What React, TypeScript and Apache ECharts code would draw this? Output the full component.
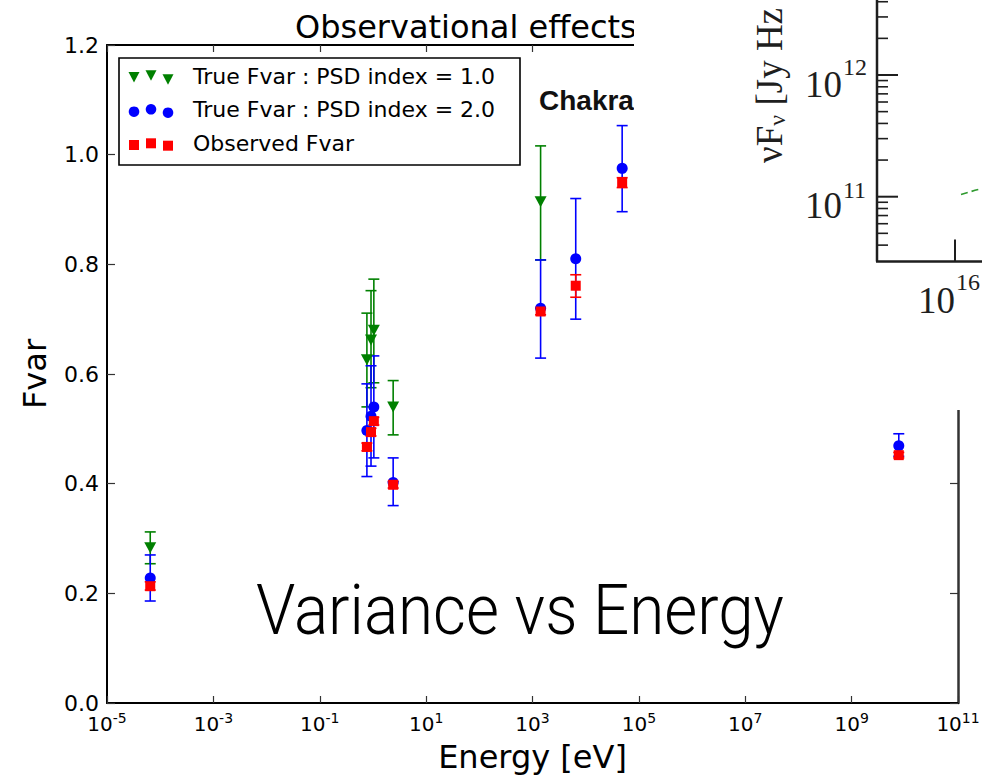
import React, { useEffect, useRef } from "react";
import * as echarts from "echarts";

// ---- data ----
const energies = [6.5e-5, 0.77, 0.92, 1.04, 2.4, 1420, 6500, 48500, 7.7e9];

const psd1Fvar = [0.283, 0.626, 0.662, 0.68, 0.54, 0.914, null, null, null];
const psd1Low = [0.254, 0.54, 0.575, 0.584, 0.489, 0.808, null, null, null];
const psd1High = [0.312, 0.711, 0.752, 0.773, 0.588, 1.016, null, null, null];

const psd2Fvar = [0.228, 0.497, 0.523, 0.54, 0.402, 0.72, 0.81, 0.975, 0.469];
const psd2Low = [0.186, 0.413, 0.432, 0.447, 0.36, 0.629, 0.7, 0.896, 0.45];
const psd2High = [0.27, 0.582, 0.615, 0.633, 0.447, 0.808, 0.92, 1.053, 0.491];

const obsFvar = [0.213, 0.467, 0.494, 0.514, 0.398, 0.714, 0.761, 0.949, 0.452];
const obsLow = [0.206, 0.46, 0.487, 0.507, 0.392, 0.708, 0.74, 0.94, 0.447];
const obsHigh = [0.221, 0.474, 0.501, 0.521, 0.404, 0.72, 0.781, 0.958, 0.457];

const xTickExponents = [-5, -3, -1, 1, 3, 5, 7, 9, 11];
const legendLabels = [
  "True Fvar : PSD index = 1.0",
  "True Fvar : PSD index = 2.0",
  "Observed Fvar",
];
const titleText = "Observational effects";
const subtitleText = "Chakraborty et al.";
const bigText = "Variance vs Energy";
const insetYTicks = ["12", "11"];
const insetXTick = "16";

const GREEN = "#008000";
const BLUE = "#0000ff";
const RED = "#ff0000";

function measure(text: string, font: string): number {
  const c = document.createElement("canvas").getContext("2d");
  if (!c) return text.length * 30;
  c.font = font;
  return c.measureText(text).width;
}

function points(vals: (number | null)[]) {
  const out: number[][] = [];
  energies.forEach((e, i) => {
    if (vals[i] != null) out.push([Math.log10(e), vals[i] as number]);
  });
  return out;
}

function errPoints(low: (number | null)[], high: (number | null)[]) {
  const out: number[][] = [];
  energies.forEach((e, i) => {
    if (low[i] != null && high[i] != null)
      out.push([Math.log10(e), low[i] as number, high[i] as number]);
  });
  return out;
}

function errSeries(name: string, low: any[], high: any[], color: string) {
  return {
    type: "custom",
    name,
    data: errPoints(low, high),
    encode: { x: 0, y: [1, 2] },
    silent: true,
    clip: false,
    renderItem: (_p: any, api: any) => {
      const x = api.value(0);
      const a = api.coord([x, api.value(1)]);
      const b = api.coord([x, api.value(2)]);
      const cw = 5.5;
      const style = { stroke: color, lineWidth: 1.6, fill: null };
      return {
        type: "group",
        children: [
          { type: "line", shape: { x1: a[0], y1: a[1], x2: b[0], y2: b[1] }, style },
          { type: "line", shape: { x1: a[0] - cw, y1: a[1], x2: a[0] + cw, y2: a[1] }, style },
          { type: "line", shape: { x1: b[0] - cw, y1: b[1], x2: b[0] + cw, y2: b[1] }, style },
        ],
      };
    },
  };
}

function buildLegend(): any[] {
  const els: any[] = [];
  els.push({
    type: "rect",
    shape: { x: 119, y: 58, width: 401, height: 107 },
    style: { fill: "#fff", stroke: "#000", lineWidth: 1.6 },
    z: 10,
  });
  const mx = [134, 151, 168];
  const rows = [
    { y: 77, offs: [0, -1.7, 2.3] },
    { y: 110.5, offs: [1.2, -1.2, 2.2] },
    { y: 144, offs: [1, -0.7, 1.7] },
  ];
  mx.forEach((x, k) => {
    const y = rows[0].y + rows[0].offs[k];
    els.push({
      type: "polygon",
      shape: { points: [[x - 5.5, y - 5], [x + 5.5, y - 5], [x, y + 5.5]] },
      style: { fill: GREEN },
      z: 11,
    });
    const y2 = rows[1].y + rows[1].offs[k];
    els.push({ type: "circle", shape: { cx: x, cy: y2, r: 5.3 }, style: { fill: BLUE }, z: 11 });
    const y3 = rows[2].y + rows[2].offs[k];
    els.push({
      type: "rect",
      shape: { x: x - 5, y: y3 - 5, width: 10, height: 10 },
      style: { fill: RED },
      z: 11,
    });
  });
  legendLabels.forEach((t, i) => {
    els.push({
      type: "text",
      x: 193,
      y: rows[i].y - 1,
      style: {
        text: t,
        fontFamily: "DejaVu Sans",
        fontSize: 22,
        fill: "#000",
        align: "left",
        verticalAlign: "middle",
      },
      z: 11,
    });
  });
  return els;
}

function buildInset(): any[] {
  const els: any[] = [];
  const Z = 101;
  const ink = "#1e1e1e";
  const axX = 877;
  const axBottom = 261.5;
  const y12 = 75;
  const decade = 121.7;
  const y11 = y12 + decade;
  els.push({ type: "rect", shape: { x: 634, y: 0, width: 348, height: 410 }, style: { fill: "#fff" }, z: 100 });
  els.push({ type: "line", shape: { x1: axX, y1: 0, x2: axX, y2: axBottom }, style: { stroke: ink, lineWidth: 2.5 }, z: Z });
  els.push({ type: "line", shape: { x1: axX - 1, y1: axBottom, x2: 982, y2: axBottom }, style: { stroke: ink, lineWidth: 2.5 }, z: Z });
  [y12, y11].forEach((y) => {
    els.push({ type: "line", shape: { x1: axX, y1: y, x2: axX + 21, y2: y }, style: { stroke: ink, lineWidth: 2 }, z: Z });
  });
  const minorYs: number[] = [];
  for (let k = 2; k <= 9; k++) minorYs.push(y11 - Math.log10(k) * decade);
  for (let k = 2; k <= 4; k++) minorYs.push(y12 - Math.log10(k) * decade);
  for (let k = 4; k <= 9; k++) minorYs.push(y11 + (1 - Math.log10(k)) * decade);
  minorYs.forEach((y) => {
    if (y < 0 || y > axBottom - 3) return;
    els.push({ type: "line", shape: { x1: axX, y1: y, x2: axX + 11, y2: y }, style: { stroke: ink, lineWidth: 1.6 }, z: Z });
  });
  els.push({ type: "line", shape: { x1: 955, y1: axBottom, x2: 955, y2: axBottom - 22 }, style: { stroke: ink, lineWidth: 2 }, z: Z });
  const lab = (x: number, y: number, text: string, size: number, align: string) => ({
    type: "text",
    x,
    y,
    style: { text, fontFamily: "Liberation Serif", fontSize: size, fill: ink, align, verticalAlign: "middle" },
    z: Z,
  });
  els.push(lab(842, y12 + 9, "10", 37, "right"));
  els.push(lab(843, y12 - 8, insetYTicks[0], 24, "left"));
  els.push(lab(842, y11 + 9, "10", 37, "right"));
  els.push(lab(843, y11 - 7, insetYTicks[1], 24, "left"));
  els.push(lab(955, 300, "10", 37, "right"));
  els.push(lab(956, 282, insetXTick, 24, "left"));
  els.push({
    type: "text",
    x: 769,
    y: 163,
    rotation: Math.PI / 2,
    style: {
      text: "{a|νF}{s|ν}{a| [Jy Hz}",
      align: "left",
      verticalAlign: "middle",
      fill: ink,
      rich: {
        a: { fontFamily: "Liberation Serif", fontSize: 37, lineHeight: 40, fill: ink },
        s: { fontFamily: "Liberation Serif", fontSize: 24, lineHeight: 14, verticalAlign: "bottom", fill: ink },
      },
    },
    z: Z,
  });
  els.push({
    type: "polyline",
    shape: { points: [[961, 194.5], [968, 192.5], [975, 190.3], [982, 188.5]] },
    style: { stroke: "#2f9a2f", lineWidth: 1.6, lineDash: [7, 4], fill: null },
    z: Z,
  });
  return els;
}

export default function App() {
  const ref = useRef<HTMLDivElement>(null);
  useEffect(() => {
    if (!ref.current) return;
    const chart = echarts.init(ref.current, null, { renderer: "svg" });

    const bigFont = "300 70px Roboto";
    const bigScale = 528 / measure(bigText, bigFont);

    const axisLineStyle = { color: "#000", width: 2 };
    const tickStyle = { color: "#333", width: 1.2 };

    const option: any = {
      animation: false,
      backgroundColor: "#fff",
      textStyle: { fontFamily: "DejaVu Sans" },
      grid: { left: 107, right: 24, top: 45, bottom: 73, containLabel: false, outerBoundsMode: "none", show: false },
      xAxis: [
        {
          type: "value",
          min: -5,
          max: 11,
          interval: 1,
          position: "bottom",
          name: "Energy [eV]",
          nameLocation: "middle",
          nameGap: 39,
          nameTextStyle: { fontFamily: "DejaVu Sans", fontSize: 32, lineHeight: 30, color: "#000" },
          axisLine: { show: true, onZero: false, lineStyle: axisLineStyle },
          axisTick: { show: true, inside: true, length: 7, customValues: xTickExponents, lineStyle: tickStyle },
          axisLabel: {
            show: true,
            customValues: xTickExponents,
            margin: 8,
            formatter: (v: number) => `{b|10}{s|${v}}`,
            rich: {
              b: { fontFamily: "DejaVu Sans", fontSize: 20, lineHeight: 26, color: "#000" },
              s: { fontFamily: "DejaVu Sans", fontSize: 14, lineHeight: 15, verticalAlign: "top", color: "#000" },
            },
          },
          splitLine: { show: false },
        },
        {
          type: "value",
          min: -5,
          max: 11,
          interval: 1,
          position: "top",
          axisLine: { show: true, onZero: false, lineStyle: axisLineStyle },
          axisTick: { show: true, inside: true, length: 7, customValues: xTickExponents, lineStyle: tickStyle },
          axisLabel: { show: false },
          splitLine: { show: false },
        },
      ],
      yAxis: [
        {
          type: "value",
          min: 0,
          max: 1.2,
          interval: 0.2,
          position: "left",
          name: "Fvar",
          nameLocation: "middle",
          nameGap: 56,
          nameRotate: 90,
          nameTextStyle: { fontFamily: "DejaVu Sans", fontSize: 32, color: "#000" },
          axisLine: { show: true, onZero: false, lineStyle: axisLineStyle },
          axisTick: { show: true, inside: true, length: 8, lineStyle: tickStyle },
          axisLabel: {
            show: true,
            margin: 8,
            fontFamily: "DejaVu Sans",
            fontSize: 22,
            color: "#000",
            formatter: (v: number) => v.toFixed(1),
          },
          splitLine: { show: false },
        },
        {
          type: "value",
          min: 0,
          max: 1.2,
          interval: 0.2,
          position: "right",
          axisLine: { show: true, onZero: false, lineStyle: { color: "#333", width: 2.5 } },
          axisTick: { show: true, inside: true, length: 8, lineStyle: tickStyle },
          axisLabel: { show: false },
          splitLine: { show: false },
        },
      ],
      series: [
        errSeries("psd1err", psd1Low, psd1High, GREEN),
        {
          type: "scatter",
          name: legendLabels[0],
          data: points(psd1Fvar),
          symbol: "triangle",
          symbolRotate: 180,
          symbolSize: [12, 11],
          itemStyle: { color: GREEN, opacity: 1 },
        },
        errSeries("psd2err", psd2Low, psd2High, BLUE),
        {
          type: "scatter",
          name: legendLabels[1],
          data: points(psd2Fvar),
          symbol: "circle",
          symbolSize: 11,
          itemStyle: { color: BLUE, opacity: 1 },
        },
        errSeries("obserr", obsLow, obsHigh, RED),
        {
          type: "scatter",
          name: legendLabels[2],
          data: points(obsFvar),
          symbol: "rect",
          symbolSize: 10,
          itemStyle: { color: RED, opacity: 1 },
        },
      ],
      graphic: [
        {
          type: "text",
          x: 295,
          y: 26.5,
          style: {
            text: titleText,
            fontFamily: "DejaVu Sans",
            fontSize: 32,
            fill: "#000",
            align: "left",
            verticalAlign: "middle",
          },
          z: 5,
        },
        {
          type: "text",
          x: 539,
          y: 100.5,
          style: {
            text: subtitleText,
            fontFamily: "Liberation Sans",
            fontWeight: "bold",
            fontSize: 28,
            fill: "#111",
            align: "left",
            verticalAlign: "middle",
          },
          z: 5,
        },
        {
          type: "text",
          x: 256,
          y: 610,
          scaleX: bigScale,
          style: {
            text: bigText,
            fontFamily: "Roboto",
            fontWeight: 300,
            fontSize: 70,
            fill: "#000",
            align: "left",
            verticalAlign: "middle",
          },
          z: 5,
        },
        ...buildLegend(),
        ...buildInset(),
      ],
    };
    chart.setOption(option);
    return () => chart.dispose();
  }, []);
  return (
    <div
      ref={ref}
      style={{ position: "fixed", left: 0, top: 0, width: 982, height: 776, background: "#fff" }}
    />
  );
}
